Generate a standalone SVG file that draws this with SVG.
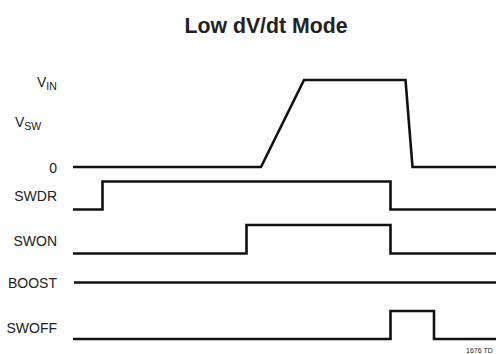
<svg xmlns="http://www.w3.org/2000/svg" width="496" height="354" viewBox="0 0 496 354">
<style>
.lbl{font-family:"Liberation Sans",Arial,sans-serif;font-size:14px;fill:#222}
.sub{font-size:10.5px}
.tr{fill:none;stroke:#111;stroke-width:2.6;stroke-linejoin:miter}
</style>
<rect width="496" height="354" fill="#fff"/>
<text x="266" y="33" text-anchor="middle" font-family="Liberation Sans,Arial,sans-serif" font-weight="bold" font-size="22" fill="#222" textLength="163" lengthAdjust="spacingAndGlyphs">Low dV/dt Mode</text>
<g id="labels">
<text class="lbl" x="37" y="87">V<tspan class="sub" dy="3">IN</tspan></text>
<text class="lbl" x="15" y="127">V<tspan class="sub" dy="3">SW</tspan></text>
<text class="lbl" x="57" y="173" text-anchor="end">0</text>
<text class="lbl" x="57" y="201" text-anchor="end">SWDR</text>
<text class="lbl" x="57" y="246" text-anchor="end">SWON</text>
<text class="lbl" x="57" y="288" text-anchor="end">BOOST</text>
<text class="lbl" x="57" y="333" text-anchor="end">SWOFF</text>
</g>
<g id="traces">
<polyline id="vsw" class="tr" points="73,167 261,167 304,80 405.5,80 412.5,167 496,167"/>
<polyline id="swdr" class="tr" points="73,209.5 102.5,209.5 102.5,181.5 390.5,181.5 390.5,209.5 496,209.5"/>
<polyline id="swon" class="tr" points="73,253.5 246.5,253.5 246.5,225 390.5,225 390.5,253.5 496,253.5"/>
<polyline id="boost" class="tr" points="74,282.5 496,282.5"/>
<polyline id="swoff" class="tr" points="73,339 390.5,339 390.5,311 434,311 434,339 496,339"/>
</g>
<text x="466" y="352.5" font-family="Liberation Sans,Arial,sans-serif" font-size="7" fill="#222">1676 TD</text>
</svg>
